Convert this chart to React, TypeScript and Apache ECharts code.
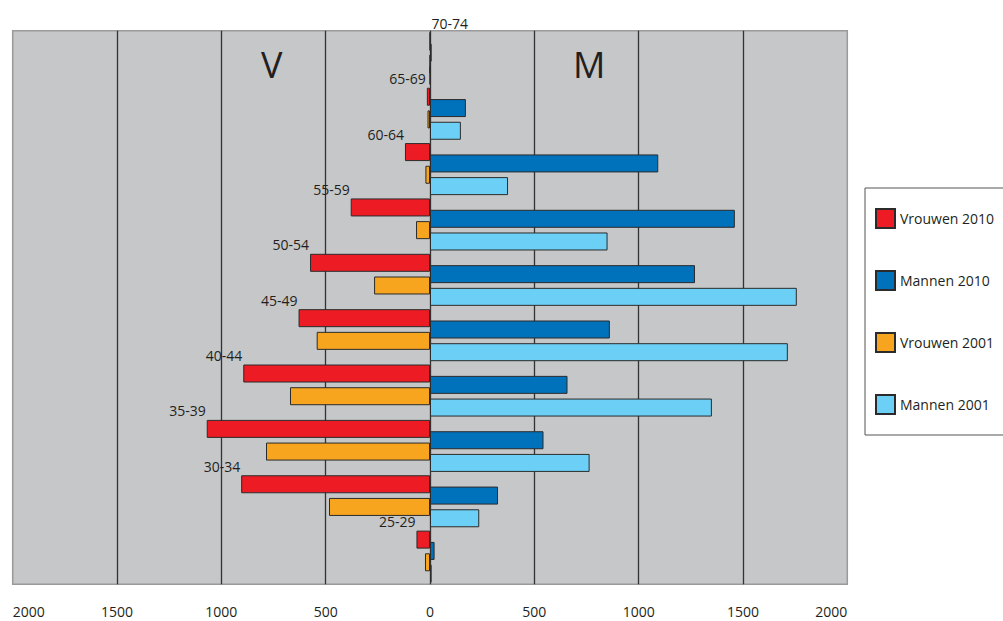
import React, { useEffect, useRef } from "react";
import * as echarts from "echarts";

const ageGroups = ["70-74", "65-69", "60-64", "55-59", "50-54", "45-49", "40-44", "35-39", "30-34", "25-29"];
const vrouwen2010 = [0, 15, 120, 380, 575, 630, 895, 1070, 905, 65];
const mannen2010 = [8, 172, 1094, 1461, 1270, 862, 659, 544, 326, 22];
const vrouwen2001 = [0, 12, 22, 67, 268, 543, 671, 786, 484, 24];
const mannen2001 = [0, 148, 374, 851, 1758, 1715, 1351, 765, 236, 8];
const seriesNames = ["Vrouwen 2010", "Mannen 2010", "Vrouwen 2001", "Mannen 2001"];
const seriesColors = ["#ed1c24", "#0071bb", "#f7a51e", "#6ccff6"];

const FONT = "Open Sans";
const TEXT = "#231f20";

export default function App() {
  const ref = useRef<HTMLDivElement>(null);
  useEffect(() => {
    if (!ref.current) return;
    const chart = echarts.init(ref.current, undefined, { renderer: "svg" });
    const barCommon = {
      type: "bar",
      barWidth: 18,
      barGap: "-37%",
      itemStyle: { borderColor: "#2b2b2b", borderWidth: 1 },
    };
    const redData = vrouwen2010.map((v) =>
      v === 0
        ? { value: 0, label: { position: "right", distance: 1, align: "left" } }
        : -v
    );
    chart.setOption({
      animation: false,
      textStyle: { fontFamily: FONT },
      grid: {
        left: 12.7,
        right: 155.7,
        top: 30.7,
        bottom: 36.7,
        show: true,
        backgroundColor: "#c6c7c9",
        borderColor: "#9a9a9a",
        borderWidth: 1.5,
        containLabel: false,
      },
      legend: {
        orient: "vertical",
        left: 865,
        top: 188,
        itemWidth: 19,
        itemHeight: 19,
        itemGap: 41,
        padding: [20, 30, 20, 10],
        borderColor: "#555555",
        borderWidth: 1,
        icon: "rect",
        textStyle: { fontFamily: FONT, fontSize: 14, color: TEXT, lineHeight: 19 },
        data: seriesNames,
      },
      xAxis: {
        type: "value",
        min: -2000,
        max: 2000,
        interval: 500,
        axisLine: { show: false },
        axisTick: { show: false },
        axisLabel: {
          formatter: (v: number) => String(Math.abs(v)),
          fontFamily: FONT,
          fontSize: 14,
          color: TEXT,
          margin: 20,
          alignMinLabel: "left",
          alignMaxLabel: "right",
        },
        splitLine: {
          show: true,
          showMinLine: false,
          showMaxLine: false,
          lineStyle: { color: "#333333", width: 1.3 },
        },
      },
      yAxis: {
        type: "category",
        data: ageGroups,
        inverse: true,
        axisLine: { show: false },
        axisTick: { show: false },
        axisLabel: { show: false },
        splitLine: { show: false },
      },
      graphic: [
        {
          type: "text",
          left: 261,
          top: 46,
          style: { text: "V", fontFamily: FONT, fontSize: 36, fill: TEXT },
        },
        {
          type: "text",
          left: 573,
          top: 46,
          style: { text: "M", fontFamily: FONT, fontSize: 36, fill: TEXT },
        },
      ],
      series: [
        {
          ...barCommon,
          name: seriesNames[0],
          data: redData,
          itemStyle: { ...barCommon.itemStyle, color: seriesColors[0] },
          label: {
            show: true,
            position: "left",
            distance: 1,
            offset: [0, -18],
            formatter: "{b}",
            fontFamily: FONT,
            fontSize: 14,
            color: TEXT,
          },
        },
        {
          ...barCommon,
          name: seriesNames[1],
          data: mannen2010,
          itemStyle: { ...barCommon.itemStyle, color: seriesColors[1] },
        },
        {
          ...barCommon,
          name: seriesNames[2],
          data: vrouwen2001.map((v) => -v),
          itemStyle: { ...barCommon.itemStyle, color: seriesColors[2] },
        },
        {
          ...barCommon,
          name: seriesNames[3],
          data: mannen2001,
          itemStyle: { ...barCommon.itemStyle, color: seriesColors[3] },
        },
      ],
    });
    return () => chart.dispose();
  }, []);
  return (
    <div
      ref={ref}
      style={{ position: "absolute", left: 0, top: 0, width: 1003, height: 621, background: "#ffffff" }}
    />
  );
}
